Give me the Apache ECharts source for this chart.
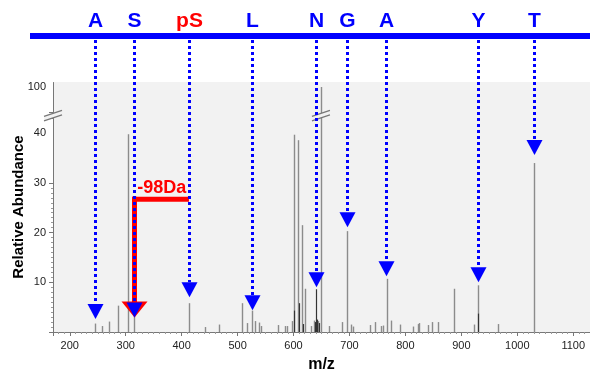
<!DOCTYPE html>
<html><head><meta charset="utf-8">
<script src="https://cdn.jsdelivr.net/npm/echarts@6/dist/echarts.min.js"></script>
<style>html,body{margin:0;padding:0;background:#fff}#c{width:590px;height:370px}</style>
</head><body><div id="c"></div>
<script>
// Spectrum peaks (m/z, relative abundance)
const peakMz  = [245, 258, 270, 286, 304, 315, 413, 441, 467, 508, 516, 526, 531, 538, 541, 573, 584, 588, 597, 601, 608, 616, 620, 631, 636, 644, 649, 664, 687, 696, 702, 707, 737, 746, 757, 760, 767, 774, 791, 813, 822, 825, 840, 848, 858, 886, 922, 929, 965, 1029];
const peakInt = [1.7, 1.2, 2.1, 5.3, 39.8, 3.5, 5.8, 1.0, 1.5, 5.8, 1.8, 4.3, 2.2, 1.9, 1.2, 1.4, 1.2, 1.2, 2.2, 39.7, 38.6, 21.5, 8.7, 1.2, 2.3, 2.2, 100, 1.2, 2.0, 20.3, 1.5, 1.1, 1.4, 2.0, 1.2, 1.3, 10.7, 2.3, 1.5, 1.1, 1.6, 1.8, 1.4, 2.0, 2.0, 8.7, 1.5, 9.4, 1.6, 34.0];
const darkMz  = [601.5, 610, 617, 638, 640, 642, 645, 929];
const darkInt = [4.3, 5.8, 1.6, 2.0, 8.6, 2.5, 1.8, 3.7];

// Fragment annotations
const fragLabels = ['A', 'S', 'pS', 'L', 'N', 'G', 'A', 'Y', 'T'];
const fragMz     = [245, 315, 413, 526, 640, 696, 766, 929, 1029];
const fragTip    = [2.6, 2.9, 7.0, 4.4, 9.0, 21.1, 11.2, 10.0, 35.6];
const fragColors = ['#0000ff', '#0000ff', '#ff0000', '#0000ff', '#0000ff', '#0000ff', '#0000ff', '#0000ff', '#0000ff'];

// Neutral loss annotation
const lossFromMz = 413, lossToMz = 315, lossLevel = 26.7, lossTip = 2.9, lossLabel = '-98Da';

// Axes
const xMin = 170, xMax = 1130, yMax = 101;
const breakStart = 43, breakEnd = 95;
const yTickLabels = [10, 20, 30, 40, 100];

const FONT = '"Liberation Sans", Arial, sans-serif';
const chart = echarts.init(document.getElementById('c'), null, {renderer: 'canvas'});

function stick(color, width) {
  return function (params, api) {
    const p0 = api.coord([api.value(0), 0]);
    const p1 = api.coord([api.value(0), api.value(1)]);
    const x = Math.round(p0[0]) + 0.5;
    return {type: 'line', shape: {x1: x, y1: p0[1], x2: x, y2: p1[1]}, style: {stroke: color, lineWidth: width}};
  };
}

const tallMz = peakMz.filter((m, i) => peakInt[i] > breakStart);
const breakMarks = [[xMin, breakStart]].concat(tallMz.map(m => [m, breakStart]));

chart.setOption({
  animation: false,
  backgroundColor: '#ffffff',
  grid: {left: 53, right: 0, top: 82, bottom: 38, show: true, backgroundColor: '#f2f2f2', borderWidth: 0,
         containLabel: false, outerBoundsMode: 'none'},
  xAxis: {
    type: 'value', min: xMin, max: xMax, splitNumber: 10,
    name: 'm/z', nameLocation: 'middle', nameGap: 25, nameMoveOverlap: false,
    nameTextStyle: {fontFamily: FONT, fontSize: 16, fontWeight: 'bold', color: '#000'},
    axisLine: {show: true, lineStyle: {color: '#777', width: 1}},
    axisTick: {show: true, length: 4, lineStyle: {color: '#777'}},
    minorTick: {show: true, splitNumber: 10, length: 2, lineStyle: {color: '#999'}},
    splitLine: {show: false},
    axisLabel: {fontFamily: FONT, fontSize: 11, color: '#222', margin: 8,
      formatter: v => (v % 100 === 0 ? String(v) : '')}
  },
  yAxis: {
    type: 'value', min: 0, max: yMax, interval: 10,
    breaks: [{start: breakStart, end: breakEnd, gap: '2.6%'}],
    breakArea: {show: false},
    breakLabelLayout: {moveOverlap: false},
    name: 'Relative Abundance', nameLocation: 'middle', nameGap: 27, nameMoveOverlap: false,
    nameTextStyle: {fontFamily: FONT, fontSize: 15, fontWeight: 'bold', color: '#000'},
    axisLine: {show: true, lineStyle: {color: '#777', width: 1}},
    axisTick: {show: true, length: 4, lineStyle: {color: '#777'}},
    minorTick: {show: true, splitNumber: 10, length: 2, lineStyle: {color: '#999'}},
    splitLine: {show: false},
    axisLabel: {fontFamily: FONT, fontSize: 11, color: '#222', margin: 7, hideOverlap: false,
      customValues: yTickLabels, formatter: v => String(v)}
  },
  graphic: [
    {type: 'rect', shape: {x: 30, y: 33, width: 560, height: 6}, style: {fill: '#0000ff'}, z: 10}
  ],
  series: [
    {type: 'custom', name: 'peaks', z: 2, clip: true, silent: true,
     data: peakMz.map((m, i) => [m, peakInt[i]]), encode: {x: 0, y: 1},
     renderItem: stick('#8c8c8c', 1.4)},
    {type: 'custom', name: 'dark', z: 3, clip: true, silent: true,
     data: darkMz.map((m, i) => [m, darkInt[i]]), encode: {x: 0, y: 1},
     renderItem: stick('#333333', 1.2)},
    {type: 'custom', name: 'breaks', z: 4, clip: false, silent: true,
     data: breakMarks, encode: {x: 0, y: 1},
     renderItem: function (params, api) {
       const p = api.coord([api.value(0), api.value(1)]);
       const x = p[0], y = p[1] - 3;
       const a = [x - 9, y + 5.5], b = [x + 9, y - 0.5];
       const c = [x + 9, y - 5], d = [x - 9, y + 1];
       return {type: 'group', children: [
         {type: 'polygon', shape: {points: [a, b, c, d]}, style: {fill: '#f2f2f2'}},
         {type: 'line', shape: {x1: a[0], y1: a[1], x2: b[0], y2: b[1]}, style: {stroke: '#777', lineWidth: 1.2}},
         {type: 'line', shape: {x1: d[0], y1: d[1], x2: c[0], y2: c[1]}, style: {stroke: '#777', lineWidth: 1.2}}
       ]};
     }},
    {type: 'custom', name: 'loss', z: 5, clip: false, silent: true,
     data: [[lossToMz, lossLevel]], encode: {x: 0, y: 1},
     renderItem: function (params, api) {
       const pTo = api.coord([lossToMz, lossLevel]);
       const pFrom = api.coord([lossFromMz, lossLevel]);
       const pTip = api.coord([lossToMz, lossTip]);
       const x = Math.round(pTo[0]) + 0.5;
       return {type: 'group', children: [
         {type: 'line', shape: {x1: x - 2.5, y1: pTo[1], x2: pFrom[0], y2: pTo[1]}, style: {stroke: '#ff0000', lineWidth: 5}},
         {type: 'line', shape: {x1: x, y1: pTo[1] - 2.5, x2: x, y2: pTip[1] - 15}, style: {stroke: '#ff0000', lineWidth: 5}},
         {type: 'polygon', shape: {points: [[x - 13, pTip[1] - 16], [x + 13, pTip[1] - 16], [x, pTip[1]]]}, style: {fill: '#ff0000'}},
         {type: 'text', style: {text: lossLabel, x: (x + pFrom[0]) / 2, y: pTo[1] - 11, align: 'center', verticalAlign: 'middle',
           fontFamily: FONT, fontSize: 18, fontWeight: 'bold', fill: '#ff0000'}}
       ]};
     }},
    {type: 'custom', name: 'fragments', z: 6, clip: false, silent: true,
     data: fragMz.map((m, i) => [m, fragTip[i]]), encode: {x: 0, y: 1},
     renderItem: function (params, api) {
       const i = params.dataIndex;
       const p = api.coord([api.value(0), api.value(1)]);
       const x = Math.round(p[0]) + 0.5;
       return {type: 'group', children: [
         {type: 'line', shape: {x1: x, y1: 40, x2: x, y2: p[1] - 15}, style: {stroke: '#0000ff', lineWidth: 3, lineDash: [3, 3]}},
         {type: 'polygon', shape: {points: [[x - 8, p[1] - 15], [x + 8, p[1] - 15], [x, p[1]]]}, style: {fill: '#0000ff'}},
         {type: 'text', style: {text: fragLabels[i], x: x, y: 21, align: 'center', verticalAlign: 'middle',
           fontFamily: FONT, fontSize: 21, fontWeight: 'bold', fill: fragColors[i]}}
       ]};
     }}
  ]
});
</script>
</body></html>
